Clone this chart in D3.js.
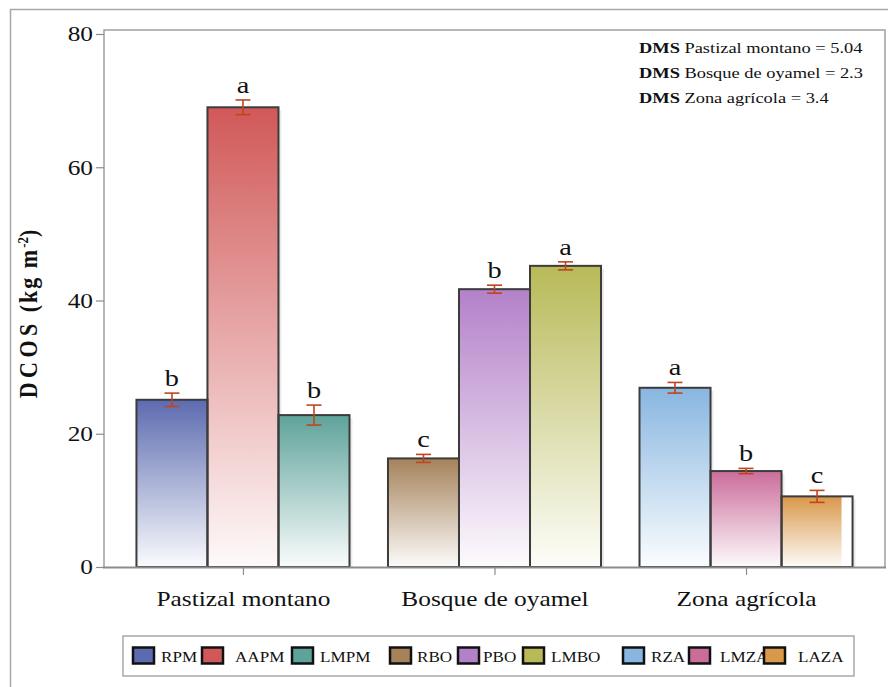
<!DOCTYPE html>
<html>
<head>
<meta charset="utf-8">
<script src="https://cdn.jsdelivr.net/npm/d3@7"></script>
<style>
  html, body { margin: 0; padding: 0; background: #fff; }
  svg { display: block; }
  svg text { font-family: "Liberation Serif", "Times New Roman", serif; }
</style>
</head>
<body>
<svg id="chart" width="888" height="687"></svg>
<script>
// Land-use groups and the three sampled variables in each
const groups = ["Pastizal montano", "Bosque de oyamel", "Zona agrícola"];
const seriesCodes = ["RPM", "AAPM", "LMPM", "RBO", "PBO", "LMBO", "RZA", "LMZA", "LAZA"];
const seriesGroup = [0, 0, 0, 1, 1, 1, 2, 2, 2];
// Mean DCOS (kg m-2), standard error and significance letters
const means = [25.1, 69.0, 22.8, 16.3, 41.7, 45.2, 26.9, 14.4, 10.6];
const errors = [1.0, 1.1, 1.5, 0.6, 0.6, 0.6, 0.8, 0.4, 0.9];
const letters = ["b", "a", "b", "c", "b", "a", "a", "b", "c"];
const yTicks = [0, 20, 40, 60, 80];
// Least significant differences per group
const dmsGroups = ["Pastizal montano", "Bosque de oyamel", "Zona agrícola"];
const dmsValues = ["5.04", "2.3", "3.4"];

const colors = ["#5c6bb0", "#d15858", "#5ea39a", "#a5825a", "#b381c9",
                "#b8ba58", "#88b6e0", "#cb6d9b", "#d9984a"];

const serif = "'Liberation Serif', 'Times New Roman', serif";
const WIDE = 1.18; // horizontal widening of all lettering

// Widen a text selection horizontally about its own anchor x
function widen(sel) {
  sel.each(function () {
    const t = d3.select(this);
    const ax = +t.attr("x") || 0;
    t.attr("transform", `translate(${ax},0) scale(${WIDE},1) translate(${-ax},0)`);
  });
}

const svg = d3.select("#chart");

// Outer frame
svg.append("rect")
  .attr("x", 10.5).attr("y", 9.5).attr("width", 900).attr("height", 700)
  .attr("fill", "none").attr("stroke", "#a8a8a8").attr("stroke-width", 1.5);

const plot = { left: 104, right: 885, top: 30, bottom: 567 };

const y = d3.scaleLinear().domain([0, 80.6]).range([plot.bottom, plot.top]);
const x0 = d3.scaleBand().domain(groups)
  .range([plot.left, plot.right]).paddingInner(0.153).paddingOuter(0.129);
const x1 = d3.scaleBand().domain([0, 1, 2]).range([0, x0.bandwidth()]).padding(0);

// Gradients: full colour at top, fading to white at the base
const defs = svg.append("defs");
colors.forEach((c, i) => {
  const g = defs.append("linearGradient").attr("id", "grad" + i)
    .attr("x1", 0).attr("y1", 0).attr("x2", 0).attr("y2", 1);
  g.append("stop").attr("offset", "0%").attr("stop-color", c);
  g.append("stop").attr("offset", "100%").attr("stop-color", d3.interpolateRgb(c, "#fff")(0.97));
});

// Plot frame
svg.append("path")
  .attr("d", `M${plot.left},${plot.bottom} V${plot.top} H${plot.right} V${plot.bottom}`)
  .attr("fill", "none").attr("stroke", "#a0a0a0").attr("stroke-width", 1.5);

// Bars
const idx = d3.range(seriesCodes.length);
const inGroupIndex = idx.map(i => i - seriesGroup.indexOf(seriesGroup[i]));
const barX = i => x0(groups[seriesGroup[i]]) + x1(inGroupIndex[i]);
const bw = x1.bandwidth();

const bars = svg.append("g");
// soft shadow
bars.selectAll("rect.shadow").data(idx).join("rect")
  .attr("class", "shadow")
  .attr("x", i => barX(i) + 3).attr("y", i => y(means[i]) + 3)
  .attr("width", bw).attr("height", i => y(0) - y(means[i]) - 3)
  .attr("fill", "#000").attr("opacity", 0.08);
bars.selectAll("rect.base").data(idx).join("rect")
  .attr("class", "base")
  .attr("x", i => barX(i)).attr("y", i => y(means[i]))
  .attr("width", bw).attr("height", i => y(0) - y(means[i]))
  .attr("fill", "#fff");
bars.selectAll("rect.fill").data(idx).join("rect")
  .attr("class", "fill")
  .attr("x", i => barX(i)).attr("y", i => y(means[i]))
  .attr("width", i => i === 8 ? bw - 11 : bw)
  .attr("height", i => y(0) - y(means[i]))
  .attr("fill", i => `url(#grad${i})`);
bars.selectAll("rect.edge").data(idx).join("rect")
  .attr("class", "edge")
  .attr("x", i => barX(i)).attr("y", i => y(means[i]))
  .attr("width", bw).attr("height", i => y(0) - y(means[i]))
  .attr("fill", "none").attr("stroke", "#3c3c3c").attr("stroke-width", 2);

// Error bars
const errColor = "#c2441c";
const eb = svg.append("g").attr("stroke", errColor).attr("stroke-width", 1.6);
idx.forEach(i => {
  const cx = barX(i) + bw / 2;
  const top = y(means[i] + errors[i]), bot = y(means[i] - errors[i]);
  eb.append("line").attr("x1", cx).attr("x2", cx).attr("y1", top).attr("y2", bot);
  eb.append("line").attr("x1", cx - 7.5).attr("x2", cx + 7.5).attr("y1", top).attr("y2", top);
  eb.append("line").attr("x1", cx - 7.5).attr("x2", cx + 7.5).attr("y1", bot).attr("y2", bot);
});

// Significance letters
svg.append("g").selectAll("text").data(idx).join("text")
  .attr("x", i => barX(i) + bw / 2)
  .attr("y", i => y(means[i] + errors[i]) - 7)
  .attr("text-anchor", "middle")
  .style("font-family", serif).style("font-size", "24px").attr("fill", "#111")
  .text(i => letters[i])
  .call(widen);

// Bottom axis line
svg.append("line")
  .attr("x1", plot.left - 1).attr("x2", plot.right + 1)
  .attr("y1", plot.bottom + 0.5).attr("y2", plot.bottom + 0.5)
  .attr("stroke", "#8c8c8c").attr("stroke-width", 2);

// X axis ticks and labels
const xAxis = svg.append("g").attr("transform", `translate(0,${plot.bottom + 1})`)
  .call(d3.axisBottom(d3.scalePoint().domain(groups)
      .range([x0(groups[0]) + x0.bandwidth() / 2, x0(groups[2]) + x0.bandwidth() / 2]))
    .tickSize(7).tickPadding(16));
xAxis.select(".domain").remove();
xAxis.selectAll(".tick line").attr("stroke", "#8c8c8c").attr("stroke-width", 1.2);
xAxis.selectAll(".tick text").style("font-family", serif).style("font-size", "21.5px")
  .attr("fill", "#111").call(widen);

// Y axis
const yAxis = svg.append("g").attr("transform", `translate(${plot.left},0)`)
  .call(d3.axisLeft(y).tickValues(yTicks).tickSize(8).tickPadding(3));
yAxis.select(".domain").remove();
yAxis.selectAll(".tick line").attr("stroke", "#8c8c8c").attr("stroke-width", 1.2);
yAxis.selectAll(".tick text").style("font-family", serif).style("font-size", "21.5px")
  .attr("fill", "#111").call(widen);

// Y axis title
const yt = svg.append("text")
  .attr("transform", `translate(37,314) scale(${WIDE},1) rotate(-90)`)
  .attr("text-anchor", "middle")
  .style("font-family", serif).style("font-weight", "bold").style("font-size", "22px")
  .attr("fill", "#111");
yt.append("tspan").attr("letter-spacing", 4.5).text("DCOS");
yt.append("tspan").attr("dx", 7).attr("letter-spacing", 2).text("(kg m");
yt.append("tspan").attr("dy", -8).style("font-size", "13px").text("-2");
yt.append("tspan").attr("dy", 8).text(")");

// DMS notes
const notes = svg.append("g");
dmsGroups.forEach((g, i) => {
  const t = notes.append("text").attr("x", 639).attr("y", 53 + i * 25)
    .style("font-family", serif).style("font-size", "15.6px").attr("fill", "#111");
  t.append("tspan").style("font-weight", "bold").text("DMS");
  t.append("tspan").text(` ${g} = ${dmsValues[i]}`);
  t.call(widen);
});

// Legend
svg.append("rect")
  .attr("x", 123).attr("y", 636).attr("width", 731).attr("height", 40)
  .attr("fill", "#fff").attr("stroke", "#a8a8a8").attr("stroke-width", 1.5);
const swatchX = [133, 202, 292, 390, 458, 523, 623, 689, 764];
const labelX = [161, 235, 320, 417, 483, 551, 651, 720, 798];
const legend = svg.append("g");
idx.forEach(i => {
  legend.append("rect")
    .attr("x", swatchX[i]).attr("y", 647.5).attr("width", 21).attr("height", 16)
    .attr("fill", colors[i]).attr("stroke", "#111").attr("stroke-width", 2.5);
  legend.append("text")
    .attr("x", labelX[i]).attr("y", 662)
    .style("font-family", serif).style("font-size", "14.5px").attr("fill", "#111")
    .text(seriesCodes[i])
    .call(widen);
});
</script>
</body>
</html>
